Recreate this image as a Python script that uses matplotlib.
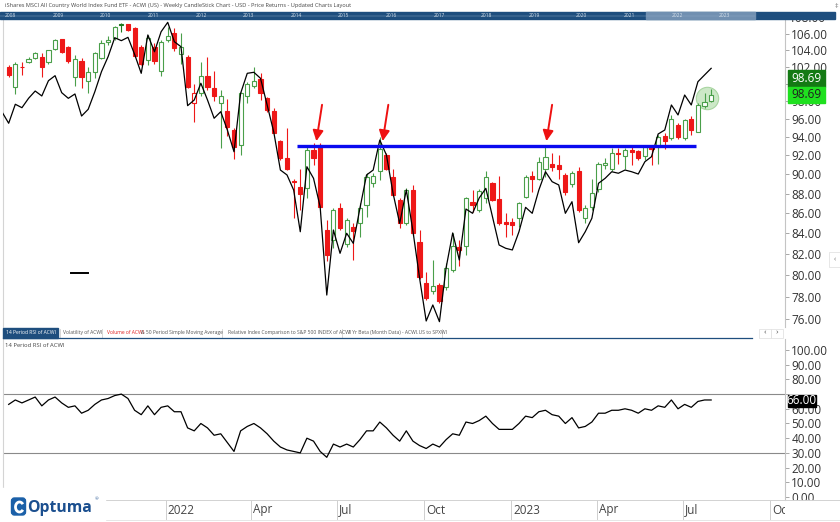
import numpy as np
import pandas as pd
import matplotlib
matplotlib.use("Agg")
import matplotlib.pyplot as plt
import matplotlib.dates as mdates
from matplotlib.patches import Rectangle, FancyBboxPatch, Arc
from matplotlib.ticker import FixedLocator, NullLocator, FuncFormatter
from matplotlib.transforms import offset_copy

plt.rcParams['font.family'] = ['Open Sans', 'DejaVu Sans']

W, H = 840, 522

# weekly ACWI candles, first bar = week of 19 Jul 2021
first_week = "2021-07-19"
opens = [102.0, 99.6, 102.05, 102.6, 103.05, 103.25, 102.55, 104.15, 105.35, 104.4,
         100.8, 102.7, 100.4, 101.4, 103.05, 105.0, 105.55, 107.25, 107.2, 106.7,
         104.45, 102.8, 104.4, 101.55, 105.2, 106.1, 103.5, 103.25, 97.85, 98.9,
         100.9, 99.5, 97.8, 96.9, 94.75, 93.1, 98.65, 99.8, 100.55, 98.35,
         96.9, 93.6, 91.7, 89.25, 88.7, 88.55, 92.6, 93.1, 84.35, 83.35,
         86.5, 82.95, 84.65, 85.0, 86.8, 89.1, 90.3, 92.05, 89.75, 87.35,
         85.0, 88.35, 83.2, 79.25, 78.55, 79.1, 78.95, 80.5, 82.65, 82.75,
         87.1, 86.35, 87.55, 89.1, 87.4, 85.15, 85.1, 85.5, 87.7, 89.8,
         89.55, 90.6, 91.1, 90.95, 89.9, 88.95, 90.3, 85.5, 86.65, 88.45,
         90.95, 90.6, 92.3, 91.95, 92.6, 92.5, 91.95, 92.95, 92.95, 94.1,
         93.85, 95.35, 93.85, 96.05, 94.6, 97.45, 98.05]
highs = [102.2, 102.6, 102.6, 103.25, 103.85, 103.65, 104.1, 105.4, 105.4, 104.5,
         103.4, 103.05, 102.05, 103.8, 105.3, 105.7, 107.0, 107.35, 107.3, 106.9,
         104.65, 105.9, 104.85, 105.3, 106.9, 106.7, 106.1, 103.45, 100.05, 102.6,
         103.25, 101.5, 99.3, 98.3, 94.95, 99.1, 100.25, 102.05, 101.3, 98.5,
         97.2, 93.7, 94.95, 89.55, 90.6, 92.95, 93.3, 93.3, 85.35, 86.5,
         87.0, 85.5, 85.0, 87.0, 90.1, 90.1, 94.05, 92.25, 90.6, 87.5,
         88.55, 88.9, 84.35, 80.35, 81.45, 79.25, 81.15, 84.0, 83.35, 87.7,
         88.35, 88.45, 90.3, 89.2, 89.8, 86.0, 85.5, 87.15, 89.9, 90.3,
         91.85, 92.95, 92.25, 92.05, 90.1, 90.4, 90.75, 86.85, 89.55, 91.3,
         91.7, 92.8, 92.8, 92.8, 92.95, 92.6, 93.1, 93.1, 94.2, 94.4,
         96.45, 95.55, 96.05, 96.3, 97.75, 98.9, 99.4]
lows = [100.85, 98.8, 101.0, 102.5, 102.9, 100.8, 102.4, 104.0, 103.7, 102.5,
        99.8, 99.5, 99.0, 100.7, 102.95, 104.7, 105.3, 106.3, 106.4, 103.25,
        102.2, 102.2, 102.3, 100.95, 105.05, 103.9, 102.3, 99.5, 95.65, 98.65,
        99.3, 98.0, 92.85, 94.15, 91.6, 92.05, 97.85, 99.55, 98.1, 96.8,
        94.4, 91.5, 90.45, 85.5, 86.35, 87.5, 91.0, 86.6, 81.3, 82.55,
        84.35, 82.7, 81.45, 83.7, 85.65, 88.7, 89.4, 90.45, 87.8, 84.5,
        84.85, 83.85, 79.7, 77.75, 78.25, 77.45, 78.65, 80.35, 80.85, 81.9,
        86.15, 86.15, 87.0, 87.2, 84.85, 83.7, 83.85, 84.65, 87.55, 88.2,
        89.4, 89.75, 90.3, 89.55, 87.85, 88.7, 86.15, 85.0, 86.35, 88.2,
        90.6, 90.3, 91.1, 90.6, 90.95, 91.5, 91.5, 90.95, 91.1, 92.65,
        93.65, 93.75, 93.65, 94.2, 94.5, 97.2, 97.95]
closes = [101.0, 102.3, 101.95, 103.0, 103.7, 102.0, 104.0, 105.3, 103.8, 102.75,
          102.9, 100.8, 101.4, 103.65, 104.9, 105.3, 106.9, 107.15, 106.5, 103.35,
          102.3, 105.55, 102.75, 105.05, 105.75, 104.3, 104.45, 99.6, 98.9, 100.9,
          99.7, 98.55, 98.65, 95.15, 92.95, 98.9, 99.95, 100.4, 99.0, 97.0,
          94.4, 91.7, 90.6, 89.15, 87.95, 92.6, 91.7, 86.65, 81.9, 86.35,
          84.5, 85.35, 84.2, 86.5, 89.75, 89.85, 92.65, 90.6, 87.85, 85.0,
          88.35, 84.0, 79.85, 77.9, 79.0, 77.6, 80.65, 82.75, 82.35, 87.55,
          86.85, 88.3, 89.75, 87.35, 85.05, 84.95, 84.85, 87.0, 89.75, 89.55,
          91.3, 91.85, 90.75, 90.6, 88.2, 90.15, 86.35, 86.5, 88.05, 91.1,
          91.2, 92.25, 92.15, 92.6, 92.4, 91.7, 92.95, 92.65, 94.05, 93.6,
          96.05, 93.95, 95.9, 94.75, 97.55, 97.95, 98.69]

# black comparison line (starts one week before the first candle)
compare_line = [96.78, 95.52, 97.66, 97.27, 98.34, 99.18, 98.61, 100.38, 100.97, 98.99,
                98.34, 98.84, 96.33, 97.09, 99.10, 101.44, 103.23, 105.54, 105.18, 105.59,
                103.52, 101.25, 105.88, 103.83, 106.28, 107.45, 105.05, 104.44, 97.50, 98.15,
                100.08, 98.15, 96.08, 96.82, 94.77, 92.40, 98.92, 101.25, 101.37, 100.66,
                97.58, 94.55, 90.45, 89.93, 88.37, 84.17, 90.80, 89.58, 86.66, 78.18,
                84.34, 82.08, 84.02, 83.04, 86.50, 89.93, 90.45, 93.67, 92.05, 88.03,
                85.00, 88.37, 84.24, 79.75, 75.85, 77.28, 75.79, 80.69, 84.05, 81.44,
                86.43, 86.00, 87.55, 88.54, 85.66, 82.88, 82.56, 82.40, 84.17, 86.60,
                86.00, 88.37, 90.27, 89.23, 88.89, 86.00, 87.17, 83.10, 84.17, 85.50,
                89.06, 89.58, 90.27, 90.11, 90.45, 90.27, 90.03, 91.33, 91.87, 94.33,
                94.77, 97.58, 96.45, 98.72, 97.58, 100.26, 101.05, 101.84]

rsi = [63, 66, 64, 66, 68, 62, 66, 68, 64, 61,
       62, 57, 59, 63, 66, 67, 69, 70, 67, 59,
       56, 62, 56, 61, 62, 58, 58, 47, 45, 50,
       47, 42, 43, 37, 31, 45, 48, 50, 47, 43,
       38, 34, 32, 31, 30, 40, 38, 31, 27, 36,
       34, 36, 34, 39, 45, 45, 51, 47, 42, 38,
       45, 38, 35, 33, 36, 34, 39, 43, 42, 51,
       50, 52, 55, 50, 46, 46, 46, 50, 55, 54,
       58, 59, 56, 55, 50, 54, 47, 48, 51, 57,
       57, 59, 59, 60, 59, 57, 60, 59, 62, 61,
       66, 60, 63, 61, 65, 66, 66]

price_ticks = list(range(76, 108, 2))
rsi_ticks = list(range(0, 101, 10))
# tick labels hidden behind the last-value boxes
covered_price_label = 100
covered_rsi_label = 70

resistance = 93.05
resistance_span = ("2022-05-20", "2023-07-15")
# (tip date, tip price, tail date, tail price)
arrows = [("2022-06-09", 93.55, "2022-06-15", 97.6),
          ("2022-08-18", 93.55, "2022-08-24", 97.6),
          ("2023-02-07", 93.55, "2023-02-13", 97.6)]
circle_at = ("2023-07-27", 98.33)

quarter_ticks = ["2021-10-01", "2022-01-01", "2022-04-01", "2022-07-01", "2022-10-01",
                 "2023-01-01", "2023-04-01", "2023-07-01", "2023-10-01"]
quarter_labels = ["", "2022", "Apr", "Jul", "Oct", "2023", "Apr", "Jul", "Oct"]
x_range = ("2021-07-13", "2023-10-17")

title = ("iShares MSCI All Country World Index Fund ETF - ACWI (US) - Weekly CandleStick "
         "Chart - USD - Price Returns - Updated Charts Layout")
nav_years = list(range(2008, 2024))

weeks = pd.date_range(first_week, periods=len(closes), freq="7D")
line_weeks = pd.date_range(weeks[0] - pd.Timedelta(days=7), periods=len(compare_line), freq="7D")
xw = mdates.date2num(weeks)
xmin, xmax = mdates.date2num(pd.to_datetime(list(x_range)))

fig = plt.figure(figsize=(8.4, 5.22), dpi=100)


def box(x0, y0, x1, y1):
    return [x0 / W, 1 - y1 / H, (x1 - x0) / W, (y1 - y0) / H]


ax = fig.add_axes(box(3, 19, 785, 327))
ax_rsi = fig.add_axes(box(3, 339, 785, 500))
ax_x = fig.add_axes(box(3, 500, 785, 520))

# ---- price panel
o, hi, lo, c = map(np.array, (opens, highs, lows, closes))
prev = np.r_[o[0], c[:-1]]
up = c >= prev
hollow = c > o
green, dgreen, red = '#4a9f4a', '#1f7a1f', '#ee1818'
edge = np.where(up, np.where(hollow, green, dgreen), red)
face = np.where(hollow, 'white', np.where(up, dgreen, red))

ax.set_yscale('log')
ax.vlines(xw, lo, hi, colors=edge, lw=0.8, zorder=2)
ax.bar(xw, np.maximum(np.abs(c - o), 0.06), bottom=np.minimum(o, c), width=4.4,
       color=face, edgecolor=edge, lw=0.8, zorder=3)
ax.scatter([mdates.date2num(pd.Timestamp(circle_at[0]))], [circle_at[1]], s=260,
           facecolor='#c4e5bd', edgecolor='#9fd097', lw=0.8, alpha=0.85, zorder=1.5)
ax.plot(mdates.date2num(line_weeks), compare_line, color='black', lw=0.9, zorder=4)
ax.hlines(resistance, *mdates.date2num(pd.to_datetime(list(resistance_span))),
          color='#0a0aef', lw=2.4, zorder=5)
for tip_d, tip_p, tail_d, tail_p in arrows:
    ax.annotate('', xy=(mdates.date2num(pd.Timestamp(tip_d)), tip_p),
                xytext=(mdates.date2num(pd.Timestamp(tail_d)), tail_p),
                arrowprops=dict(arrowstyle='-|>,head_length=0.7,head_width=0.35',
                                color='#ee1111', lw=1.4, mutation_scale=9,
                                shrinkA=0, shrinkB=0), zorder=6)
ax.plot([0.0866, 0.1091], [0.1763, 0.1763], transform=ax.transAxes, color='black', lw=1.4)

ax.set_xlim(xmin, xmax)
ax.set_ylim(75.32, 107.87)
ax.set_xticks([])
ax.yaxis.set_major_locator(FixedLocator(price_ticks))
ax.yaxis.set_minor_locator(NullLocator())
ax.yaxis.set_major_formatter(FuncFormatter(
    lambda v, p: "" if round(v) == covered_price_label else f"{v:.2f}"))

# ---- RSI panel
ax_rsi.axhline(70, color='#8a8a8a', lw=0.8)
ax_rsi.axhline(30, color='#8a8a8a', lw=0.8)
ax_rsi.plot(xw, rsi, color='black', lw=0.9)
ax_rsi.set_xlim(xmin, xmax)
ax_rsi.set_ylim(-2.04, 107.48)
ax_rsi.set_xticks([])
ax_rsi.yaxis.set_major_locator(FixedLocator(rsi_ticks))
ax_rsi.yaxis.set_major_formatter(FuncFormatter(
    lambda v, p: "" if round(v) == covered_rsi_label else f"{v:.2f}"))

for a in (ax, ax_rsi):
    a.yaxis.tick_right()
    a.tick_params(axis='y', which='both', length=3, width=0.6, color='#999999',
                  labelsize=8.5, labelcolor='#333333', pad=1.5)
    a.spines['top'].set_visible(False)
    a.spines['bottom'].set_visible(False)
    a.spines['left'].set_color('#d4d4d4')
    a.spines['right'].set_color('#c4c4c4')
    a.spines['left'].set_linewidth(0.8)
    a.spines['right'].set_linewidth(0.8)

# ---- date row
ax_x.set_xlim(xmin, xmax)
ax_x.set_axis_off()
qx = mdates.date2num(pd.to_datetime(quarter_ticks))
ax_x.vlines(qx, 0, 1, transform=ax_x.get_xaxis_transform(), color='#cfcfcf', lw=0.7)
lab_tr = offset_copy(ax_x.get_xaxis_transform(), fig=fig, x=2, y=0, units='dots')
for d, t in zip(qx, quarter_labels):
    if t:
        ax_x.text(d, 0.5, t, transform=lab_tr, ha='left', va='center', fontsize=8.5,
                  color='#444444', clip_on=True)

# ---- chrome overlay in pixel units
ov = fig.add_axes([0, 0, 1, 1], zorder=10)
ov.set_xlim(0, W)
ov.set_ylim(H, 0)
ov.set_axis_off()

ov.text(5, 5.5, title, fontsize=4.1, color='#444444', va='center', ha='left')
ov.text(836, 6, '\u2021', fontsize=5, color='#777777', va='center', ha='center')
ov.text(789, 18, '108.00', fontsize=8.5, color='#333333', va='center', ha='left', zorder=1)
ov.add_patch(Rectangle((0, 12.3), 835, 7, color='#1e4e7e', zorder=2))
ov.add_patch(Rectangle((646, 12.3), 109, 7, color='#7190b1', zorder=2))
ov.plot([0, 755], [15.6, 15.6], color='#8eaac6', lw=0.3, zorder=3)
for i, yr in enumerate(nav_years):
    ov.text(5 + i * 47.6, 15.8, str(yr), fontsize=3.5, color='#d8e2ec', va='center',
            ha='left', zorder=4)

# tabs
ov.add_patch(Rectangle((3, 328), 55, 9.5, color='#1e4e7e'))
ov.text(30.5, 332.8, '14 Period RSI of ACWI', fontsize=3.6, color='white', ha='center', va='center')
tab_txt = [(63, 'Volatility of ACWI', '#555555'),
           (107, 'Volume of ACWI', '#e02020'),
           (141.3, '& 50 Period Simple Moving Average', '#555555'),
           (228, 'Relative Index Comparison to S&P 500 INDEX of ACWI', '#555555'),
           (348, '1 Yr Beta (Month Data) - ACWI.US to SPXWI', '#555555')]
for tx, t, col in tab_txt:
    ov.text(tx, 332.8, t, fontsize=3.6, color=col, ha='left', va='center')
for sx in (60, 102, 222, 342, 442):
    ov.plot([sx, sx], [328.5, 337.5], color='#d0d0d0', lw=0.6)
ov.plot([3, 752], [338.4, 338.4], color='#1e4e7e', lw=0.9)
for bx, s in ((758.5, '\u2039'), (771, '\u203a')):
    ov.add_patch(Rectangle((bx, 328.5), 12, 9, facecolor='white', edgecolor='#dddddd', lw=0.5))
    ov.text(bx + 6, 332.6, s, fontsize=6, color='#555555', ha='center', va='center')
ov.add_patch(Rectangle((829, 252), 11, 15, facecolor='white', edgecolor='#dddddd', lw=0.5))
ov.text(834.5, 259.5, '\u2039', fontsize=5.5, color='#777777', ha='center', va='center')

ov.text(5, 345.5, '14 Period RSI of ACWI', fontsize=4.2, color='#444444', va='center')

# last value boxes
ov.add_patch(Rectangle((787.5, 70), 37, 16.5, color='#147a14'))
ov.text(806, 78.3, f"{closes[-1]:.2f}", fontsize=8.5, color='white', ha='center', va='center')
ov.add_patch(Rectangle((787.5, 86.5), 37, 16, color='#1fe01f'))
ov.text(806, 94.6, f"{closes[-1]:.2f}", fontsize=8.5, color='#1f1f1f', ha='center', va='center')
ov.add_patch(Rectangle((787.5, 395), 28, 11.5, color='black'))
ov.text(801.5, 400.8, f"{rsi[-1]:.2f}", fontsize=8.5, color='white', ha='center', va='center')

# bottom row frame
ov.add_patch(Rectangle((785.5, 500.5), 54.5, 21.5, color='white', zorder=1))
ov.plot([105, 840], [500.3, 500.3], color='#d2d2d2', lw=0.7, zorder=2)
ov.plot([105, 840], [519.5, 519.5], color='#e2e2e2', lw=0.6, zorder=2)

# logo
ov.add_patch(Rectangle((0, 488), 105, 34, color='white', zorder=3))
ov.add_patch(FancyBboxPatch((11.5, 498), 14, 17, boxstyle='round,pad=0,rounding_size=3',
                            color='#1b60a8', zorder=4))
ov.add_patch(Arc((19.5, 507), 8, 10, theta1=40, theta2=320, color='white', lw=2.0, zorder=5))
ov.text(27.5, 507.5, 'Optuma', fontsize=11.3, fontweight='bold', color='#1b4f8f',
        ha='left', va='center', zorder=5)
ov.text(95, 499.5, '\u00ae', fontsize=3.2, color='#1b4f8f', ha='left', va='center', zorder=5)

fig.savefig('out.png', dpi=100)
